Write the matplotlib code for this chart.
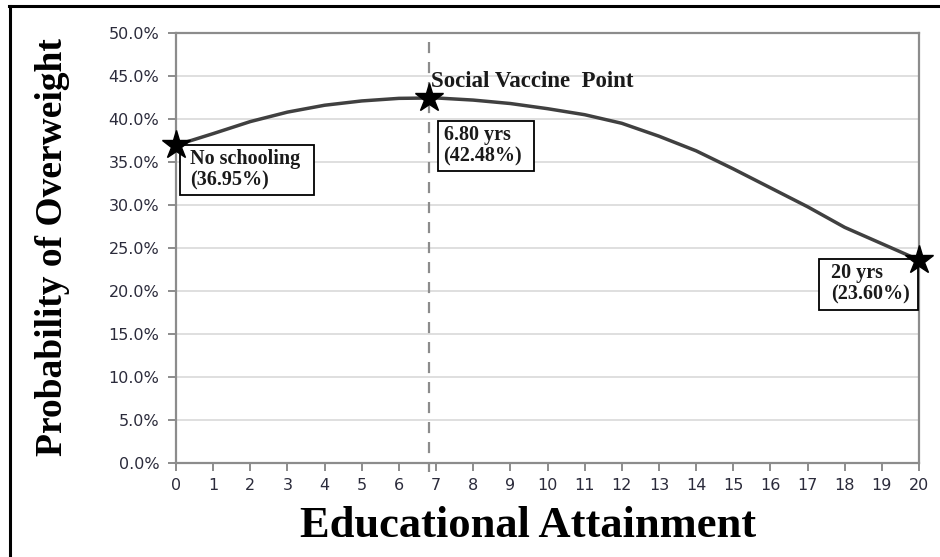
import matplotlib
matplotlib.use("Agg")
import matplotlib.pyplot as plt
from matplotlib.lines import Line2D
from matplotlib.patches import Rectangle
from matplotlib.ticker import FuncFormatter

# ---- data ----
years = list(range(0, 21))
prob = [36.95, 38.3, 39.7, 40.8, 41.6, 42.1, 42.4, 42.45, 42.2, 41.8, 41.2,
        40.5, 39.5, 38.0, 36.3, 34.2, 32.0, 29.8, 27.4, 25.5, 23.6]
key_x = [0, 6.8, 20]
key_y = [36.95, 42.48, 23.60]
key_labels = ["No schooling\n(36.95%)", "6.80 yrs\n(42.48%)", "20 yrs\n(23.60%)"]
vaccine_label = "Social Vaccine  Point"
x_ticks = list(range(0, 21))
y_ticks = [0, 5, 10, 15, 20, 25, 30, 35, 40, 45, 50]

W, H = 940, 557
fig = plt.figure(figsize=(W / 100, H / 100), dpi=100)
fig.patch.set_facecolor("white")

left, right, top, bottom = 176, 919, 33, 463
ax = fig.add_axes([left / W, 1 - bottom / H, (right - left) / W, (bottom - top) / H])

ax.set_xlim(0, 20)
ax.set_ylim(0, 50)

for y in y_ticks:
    ax.axhline(y, color="#d9d9d9", lw=1.2, zorder=0)

ax.plot(years, prob, color="#404040", lw=2.5, zorder=3, solid_joinstyle="round")
ax.plot([6.8, 6.8], [48.9, -1.0], color="#8c8c8c", lw=1.6, ls=(0, (5, 4)),
        clip_on=False, zorder=2)
ax.plot(key_x, key_y, ls="none", marker="*", ms=21, color="black", zorder=7,
        clip_on=False)

ax.set_xticks(x_ticks)
ax.set_yticks(y_ticks)
ax.yaxis.set_major_formatter(FuncFormatter(lambda v, p: f"{v:.1f}%"))
for s in ax.spines.values():
    s.set_color("#8c8c8c")
    s.set_linewidth(1.6)
ax.tick_params(axis="both", colors="#8c8c8c", length=6, width=1.4, direction="out",
               labelcolor="#2b2b3b", labelsize=11.5)
ax.tick_params(axis="y", pad=6)
ax.tick_params(axis="x", pad=5)
for lab in ax.get_xticklabels() + ax.get_yticklabels():
    lab.set_family("DejaVu Sans")

serif = "Liberation Serif"
fs = 14.5
# (offset in pixels, ha, pad_left, pad_right, pad_top, pad_bottom)
specs = [((14, -4), "left", 10, 14, 4, 4),
         ((15, -27), "left", 6, 12, 4, 5),
         ((-9, -3), "right", 12, 8, 4, 5)]
texts = []
for (x, y, t, spec) in zip(key_x, key_y, key_labels, specs):
    off, ha = spec[0], spec[1]
    tx = ax.annotate(t, xy=(x, y), xytext=off, textcoords="offset pixels",
                     ha=ha, va="top", multialignment="left", fontsize=fs,
                     fontweight="bold", family=serif, color="#1a1a1a", zorder=6,
                     linespacing=1.1, annotation_clip=False)
    texts.append((tx, spec))

ax.annotate(vaccine_label, xy=(6.8, 42.48), xytext=(2, 6), textcoords="offset pixels",
            ha="left", va="bottom", fontsize=16.5, fontweight="bold", family=serif,
            color="#1a1a1a", zorder=6)

fig.text(528 / W, 1 - 526 / H, "Educational Attainment", ha="center", va="center",
         fontsize=32, fontweight="bold", family=serif, color="black")
fig.text(53 / W, 1 - 247 / H, "Probability of Overweight", ha="center", va="center",
         rotation=90, fontsize=27, fontweight="bold", family=serif, color="black")

# outer frame (top and left edges)
fig.add_artist(Line2D([9 / W, 1], [1 - 5.5 / H, 1 - 5.5 / H], transform=fig.transFigure,
                      color="black", lw=2.2))
fig.add_artist(Line2D([10 / W, 10 / W], [0, 1 - 5.5 / H], transform=fig.transFigure,
                      color="black", lw=2.2))

# label boxes sized around the rendered text
fig.canvas.draw()
renderer = fig.canvas.get_renderer()
for tx, spec in texts:
    _, _, pl, pr, pt, pb = spec
    bb = tx.get_window_extent(renderer)
    rect = Rectangle((bb.x0 - pl, bb.y0 - pb), bb.width + pl + pr, bb.height + pt + pb,
                     transform=None, fc="white", ec="black", lw=1.3, zorder=5,
                     clip_on=False)
    ax.add_artist(rect)

fig.savefig("out.png", dpi=100, facecolor="white")
